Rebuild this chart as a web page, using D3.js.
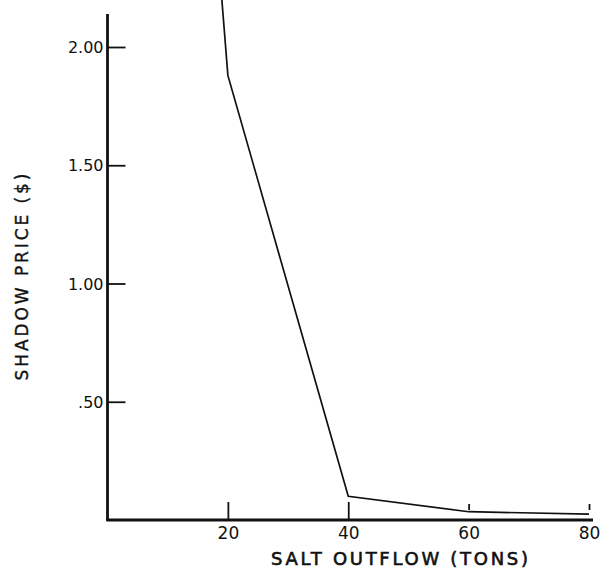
<!DOCTYPE html>
<html>
<head>
<meta charset="utf-8">
<script src="https://cdn.jsdelivr.net/npm/d3@7"></script>
<style>
  body { margin: 0; background: #fff; }
  svg { display: block; }
  text { font-family: "DejaVu Sans", "Liberation Sans", sans-serif; fill: #111; }
</style>
</head>
<body>
<svg id="chart" width="606" height="571"></svg>
<script>
// Data
const saltOutflow = [19, 20, 40, 60, 80];
const shadowPrice = [2.2, 1.88, 0.10, 0.035, 0.025];
const xTicks = [20, 40, 60, 80];
const yTicks = [0.5, 1.0, 1.5, 2.0];
const yTickLabels = [".50", "1.00", "1.50", "2.00"];
const xTitle = "SALT OUTFLOW (TONS)";
const yTitle = "SHADOW PRICE ($)";

const svg = d3.select("#chart");
const W = 606, H = 571;

const x = d3.scaleLinear().domain([0, 80]).range([107.5, 589]);
const y = d3.scaleLinear().domain([0, 2]).range([520, 47]);

svg.append("defs").append("clipPath").attr("id", "clip")
  .append("rect").attr("x", 0).attr("y", 0).attr("width", W).attr("height", H);

// Line
const line = d3.line().x((d, i) => x(saltOutflow[i])).y((d, i) => y(shadowPrice[i]));
svg.append("path")
  .datum(shadowPrice)
  .attr("d", line)
  .attr("fill", "none")
  .attr("stroke", "#111")
  .attr("stroke-width", 1.7)
  .attr("stroke-linejoin", "miter")
  .attr("clip-path", "url(#clip)");

// Y axis
const yAxis = d3.axisRight(y)
  .tickValues(yTicks)
  .tickSize(18)
  .tickFormat((d, i) => yTickLabels[i]);
const gy = svg.append("g").attr("transform", `translate(${x(0)},0)`).call(yAxis);
gy.select(".domain").remove();
gy.selectAll(".tick line").attr("stroke", "#111").attr("stroke-width", 1.8);
gy.selectAll(".tick text")
  .attr("x", -4)
  .attr("dy", "0.35em")
  .attr("text-anchor", "end")
  .style("font-size", "16px")
  .style("font-family", "\"DejaVu Sans\", sans-serif");

// X axis
const xAxis = d3.axisTop(x)
  .tickValues(xTicks)
  .tickSize(18)
  .tickFormat(d3.format("d"));
const gx = svg.append("g").attr("transform", `translate(0,${y(0)})`).call(xAxis);
gx.select(".domain").remove();
gx.selectAll(".tick line")
  .attr("stroke", "#111").attr("stroke-width", 1.8)
  .attr("y1", d => d >= 60 ? -16 : 0)
  .attr("y2", d => d >= 60 ? -10 : -18);
gx.selectAll(".tick text")
  .attr("y", 19)
  .attr("dy", 0)
  .attr("text-anchor", "middle")
  .style("font-size", "17px")
  .style("font-family", "\"DejaVu Sans\", sans-serif");

// Axis lines (thick)
svg.append("line")
  .attr("x1", x(0)).attr("x2", x(0))
  .attr("y1", 14).attr("y2", y(0) + 1)
  .attr("stroke", "#111").attr("stroke-width", 2.8);
svg.append("line")
  .attr("x1", x(0) - 1).attr("x2", 593)
  .attr("y1", y(0)).attr("y2", y(0))
  .attr("stroke", "#111").attr("stroke-width", 2.8);

// Titles
svg.append("text")
  .attr("transform", "translate(28,277) rotate(-90)")
  .attr("text-anchor", "middle")
  .attr("textLength", 207)
  .attr("lengthAdjust", "spacing")
  .style("font-size", "17px")
  .style("stroke", "#111")
  .style("stroke-width", "0.4px")
  .text(yTitle);

svg.append("text")
  .attr("x", 399.5)
  .attr("y", 565)
  .attr("text-anchor", "middle")
  .attr("textLength", 257)
  .attr("lengthAdjust", "spacing")
  .style("font-size", "18px")
  .style("stroke", "#111")
  .style("stroke-width", "0.6px")
  .text(xTitle);
</script>
</body>
</html>
